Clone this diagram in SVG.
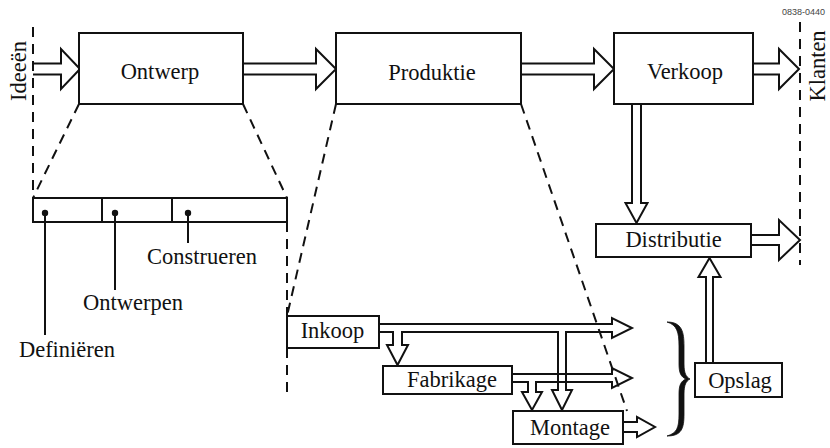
<svg xmlns="http://www.w3.org/2000/svg" width="830" height="448" viewBox="0 0 830 448">
<style>
.box{fill:#fff;stroke:#111;stroke-width:2}
.lbl{font-family:"Liberation Serif","Times New Roman",serif;font-size:22.5px;fill:#111;text-anchor:middle}
.arr{fill:none;stroke:#111;stroke-width:2;stroke-linejoin:miter}
.dash{fill:none;stroke:#111;stroke-width:2;stroke-dasharray:10 7}
.ln{fill:none;stroke:#111;stroke-width:2}
</style>
<rect width="830" height="448" fill="#fff"/>
<text x="825" y="15" font-family="'Liberation Sans',Arial,sans-serif" font-size="9" fill="#444" text-anchor="end">0838-0440</text>

<g id="guides">
<path class="dash" d="M33,27 V198"/>
<path class="dash" d="M800,22 V265"/>
<path class="dash" d="M79,104 L33,198"/>
<path class="dash" d="M243,104 L287,198"/>
<path class="dash" d="M287,222 V316"/>
<path class="dash" d="M287,348 V392"/>
<path class="dash" d="M336,104 L287,316"/>
<path class="dash" d="M521,104 L627,411"/>
</g>

<g id="connectors">
<path class="arr" d="M33,63.5 H61 V49 L80,69 L61,89 V74.5 H33"/>
<path class="arr" d="M243,63.5 H316 V49 L336,69 L316,89 V74.5 H243"/>
<path class="arr" d="M521,63.5 H594 V49 L614,69 L594,89 V74.5 H521"/>
<path class="arr" d="M753,63.5 H779 V49 L799,69 L779,89 V74.5 H753"/>
<path class="arr" d="M632,104 V203 H625.5 L636.5,223 L647.5,203 H641 V104"/>
<path class="arr" d="M751,235 H779 V220 L800,240 L779,260 V245 H751"/>
<path class="arr" d="M706,363 V277 H698.5 L709.5,258 L720.5,277 H713 V363"/>
<path class="arr" d="M379,324 H612 V318 L632,328 L612,338 V332 H566 V390 H572 L562,410 L552,390 H558 V332 H402 V345 H408 L397.5,365 L387,345 H393 V332 H379"/>
<path class="arr" d="M512,374 H612 V368 L632,378 L612,388 V382 H536 V392 H542 L532,410 L522,392 H528 V382 H512"/>
<path class="arr" d="M623,422 H637 V417 L655,427 L637,437 V432 H623"/>
</g>

<g id="ideeen"><text class="lbl" font-size="22" transform="translate(26,71) rotate(-90)">Ideeën</text></g>
<g id="klanten"><text class="lbl" font-size="22" transform="translate(825,66) rotate(-90)">Klanten</text></g>

<g id="ontwerp"><rect class="box" x="79" y="33" width="164" height="71"/><text class="lbl" x="160" y="79">Ontwerp</text></g>
<g id="produktie"><rect class="box" x="336" y="33" width="185" height="71"/><text class="lbl" x="432" y="80">Produktie</text></g>
<g id="verkoop"><rect class="box" x="614" y="33" width="139" height="71"/><text class="lbl" x="685" y="79">Verkoop</text></g>
<g id="distributie"><rect class="box" x="596" y="224" width="155" height="33"/><text class="lbl" x="673.5" y="247">Distributie</text></g>
<g id="opslag"><rect class="box" x="695" y="363" width="87" height="34"/><text class="lbl" x="740" y="388">Opslag</text></g>
<g id="inkoop"><rect class="box" x="287" y="316" width="92" height="32"/><text class="lbl" x="332.5" y="338">Inkoop</text></g>
<g id="fabrikage"><rect class="box" x="383" y="366" width="129" height="28"/><text class="lbl" x="452" y="387">Fabrikage</text></g>
<g id="montage"><rect class="box" x="513" y="411" width="110" height="33"/><text class="lbl" x="570" y="435">Montage</text></g>

<g id="fasen">
<rect class="box" x="33" y="198" width="254" height="24"/>
<path class="ln" d="M102,198 V222 M172,198 V222"/>
<circle cx="45" cy="213" r="3.2" fill="#111"/>
<circle cx="115" cy="213" r="3.2" fill="#111"/>
<circle cx="188" cy="213" r="3.2" fill="#111"/>
<path class="ln" d="M45,213 V335 M115,213 V290 M188,213 V243"/>
</g>
<g id="construeren"><text class="lbl" x="202" y="264">Construeren</text></g>
<g id="ontwerpen"><text class="lbl" x="133" y="310">Ontwerpen</text></g>
<g id="definieren"><text class="lbl" x="67" y="357">Definiëren</text></g>

<g id="brace">
<path d="M667,322 C682,322 684,332 684,346 L684,364 C684,373 686,377 690,379 C686,381 684,385 684,394 L684,414 C684,428 682,436 667,436 C677,433 679,428 679,414 L679,394 C679,385 681,381 686,379 C681,377 679,373 679,364 L679,346 C679,332 677,325 667,322 Z" fill="#111" stroke="#111" stroke-width="0.8"/>
</g>
</svg>
